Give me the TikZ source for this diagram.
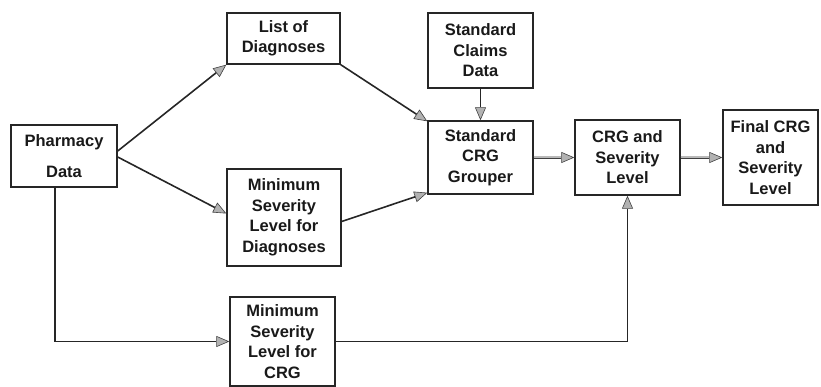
\documentclass[tikz,border=0pt]{standalone}
\usepackage{fontspec}
\setmainfont{Liberation Sans}
\usetikzlibrary{arrows.meta,calc}
\begin{document}
\begin{tikzpicture}[x=1pt,y=-1pt,
  box/.style={draw=black!85,line width=1.4pt,align=center,inner sep=0pt,
    font=\bfseries\fontsize{16.5}{20.5}\selectfont,text=black!90},
  tip/.style={-{Triangle[length=13pt,width=11pt,fill=gray!60,color=black!75,line width=0.6pt]}},
  conn/.style={draw=black!85,line width=1.6pt,tip},
  wideconn/.style={draw=black!75,line width=0.7pt,double=gray!55,double distance=2pt,tip}]
\useasboundingbox (0,0) rectangle (821,387);
\node[box,minimum width=106pt,minimum height=62pt] (pharm) at (64,156) {Pharmacy\\[10pt]Data};
\node[box,minimum width=113pt,minimum height=51pt] (list) at (283.5,38.5) {List of\\Diagnoses};
\node[box,minimum width=105pt,minimum height=75pt] (claims) at (480.5,50.5) {Standard\\Claims\\Data};
\node[box,minimum width=105pt,minimum height=73pt] (grouper) at (480.5,157.5) {Standard\\CRG\\Grouper};
\node[box,minimum width=105pt,minimum height=75pt] (crg) at (627.5,157.5) {CRG and\\Severity\\Level};
\node[box,minimum width=95pt,minimum height=95pt] (final) at (770.5,157.5) {Final CRG\\and\\Severity\\Level};
\node[box,minimum width=114pt,minimum height=97pt] (mindiag) at (284,217.5) {Minimum\\Severity\\Level for\\Diagnoses};
\node[box,minimum width=105pt,minimum height=89pt] (mincrg) at (282.5,341.5) {Minimum\\Severity\\Level for\\CRG};
\draw[conn] ([yshift=5pt]pharm.east) -- (list.south west);
\draw[conn] ([yshift=-1pt]pharm.east) -- ([yshift=4pt]mindiag.west);
\draw[conn] (list.south east) -- ([yshift=-1pt]grouper.north west);
\draw[conn] ([yshift=-4pt]mindiag.east) -- ([yshift=2pt]grouper.south west);
\draw[conn] (claims.south) -- (grouper.north);
\draw[wideconn] (grouper.east) -- (crg.west);
\draw[wideconn] (crg.east) -- (final.west);
\draw[conn] ([xshift=-9pt]pharm.south) |- (mincrg.west);
\draw[conn] (mincrg.east) -| (crg.south);
\end{tikzpicture}
\end{document}
